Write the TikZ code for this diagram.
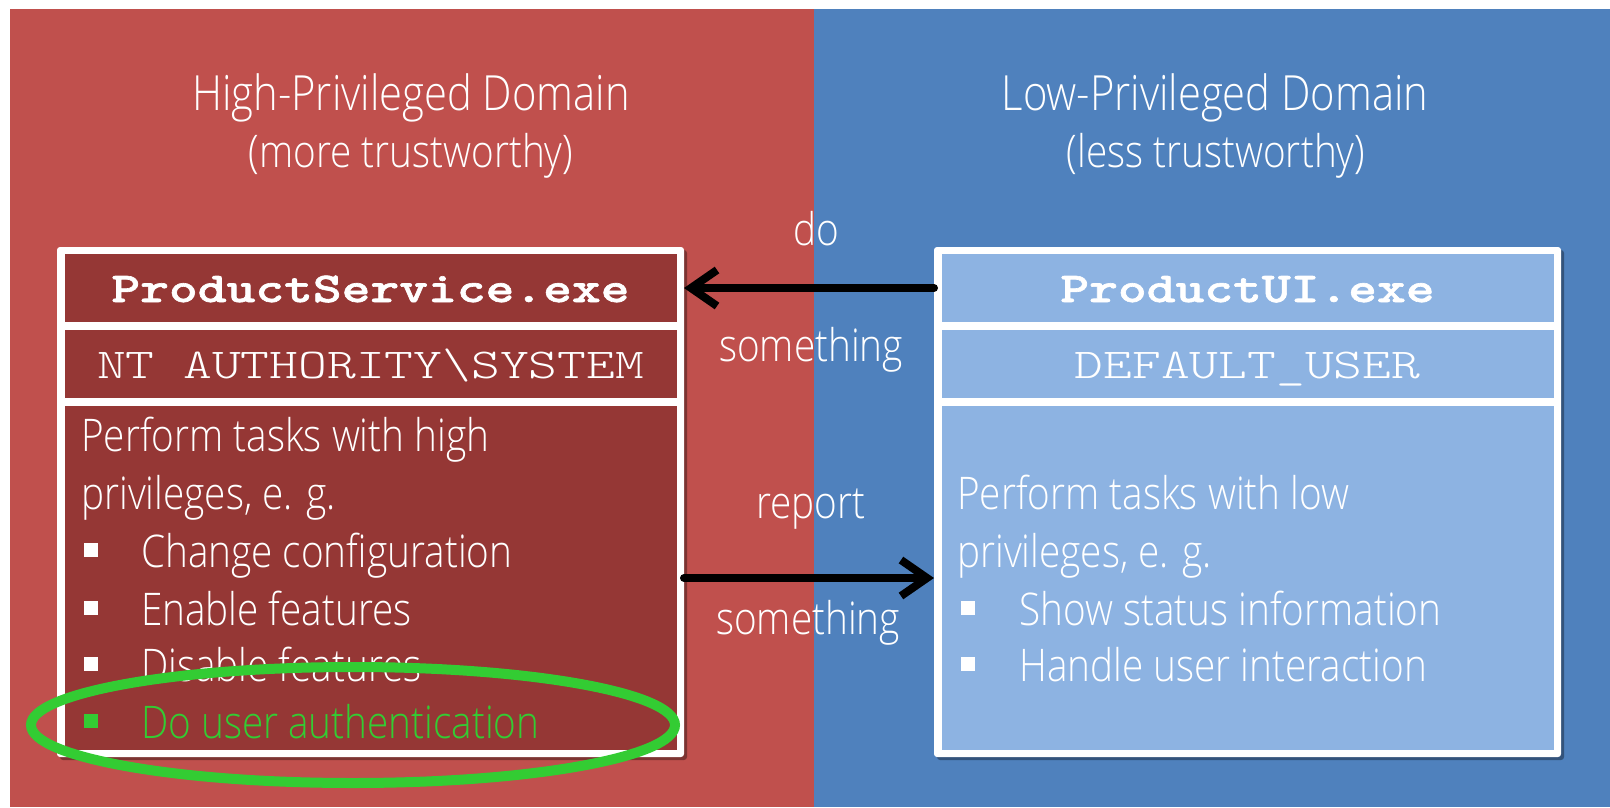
\documentclass[tikz,border=0pt]{standalone}
\usepackage{fontspec}
\setmainfont{Open Sans}[UprightFont=* Light, FakeStretch=0.86]
\newfontfamily\codefont{lmmonolt10-regular.otf}[BoldFont=lmmonolt10-bold.otf, BoldFeatures={FakeBold=1.5}, FakeStretch=1.29]
\usetikzlibrary{positioning,shadows,arrows.meta,shapes.geometric}
\definecolor{hiRed}{HTML}{C0504D}
\definecolor{loBlue}{HTML}{4F81BD}
\definecolor{hiCell}{HTML}{953735}
\definecolor{loCell}{HTML}{8DB3E2}
\definecolor{ringGreen}{HTML}{33CC33}

\begin{document}
\begin{tikzpicture}[x=1pt,y=-1pt,
	txt/.style={inner sep=0pt, text=white, font=\fontsize{45}{54}\selectfont},
	title/.style={txt, font=\fontsize{48.5}{54}\selectfont},
	cell/.style={inner sep=0pt, outer sep=0pt, minimum width=612pt, minimum height=68pt,
		text height=33pt, text depth=5pt, text=white, font=\codefont\fontsize{42.5}{50}\selectfont},
	frame/.style={fill=white, rounded corners=3pt, minimum width=627pt, minimum height=510pt,
		inner sep=0pt, outer sep=0pt,
		drop shadow={shadow xshift=3pt, shadow yshift=-3pt, opacity=0.35, fill=black}},
	bullet/.style={fill=white, inner sep=0pt, minimum size=14pt},
	flow/.style={line width=8pt, -{Straight Barb[length=26pt,width=36pt]}, line cap=round}]
	\useasboundingbox (0,0) rectangle (1610,807);
	\fill[hiRed] (10,9) rectangle (814,807);
	\fill[loBlue] (814,9) rectangle (1610,807);
	%%%%%%%%%% domains
	\node[title, anchor=base] (hiTitle) at (411,110) {High-Privileged Domain};
	\node[txt, anchor=base] (hiNote) at (411,167) {(more trustworthy)};
	\node[title, anchor=base] (loTitle) at (1215,110) {Low-Privileged Domain};
	\node[txt, anchor=base] (loNote) at (1216,167) {(less trustworthy)};
	%%%%%%%%%% ProductService.exe
	\node[frame] (psBox) at (370.5,502) {};
	\node[cell, fill=hiCell] (psHead) at (370.5,288) {\textbf{ProductService.exe}};
	\node[cell, fill=hiCell, below=8pt of psHead] (psUser) {NT AUTHORITY\textbackslash SYSTEM};
	\node[cell, fill=hiCell, below=8pt of psUser, minimum height=344pt] (psBody) {};
	\node[txt, anchor=base west] (psLine1) at (81,451) {Perform tasks with high};
	\node[txt, anchor=base west] (psLine2) at (81,509) {privileges, e. g.};
	\node[bullet] (psDot1) at (91,550) {};
	\node[txt, anchor=base west] (psItem1) at (141,567) {Change configuration};
	\node[bullet] (psDot2) at (91,608) {};
	\node[txt, anchor=base west] (psItem2) at (141,625) {Enable features};
	\node[bullet] (psDot3) at (91,664) {};
	\node[txt, anchor=base west] (psItem3) at (141,681) {Disable features};
	\node[bullet, fill=ringGreen] (psDot4) at (91,721) {};
	\node[txt, anchor=base west, text=ringGreen] (psItem4) at (141,738) {Do user authentication};
	%%%%%%%%%% ProductUI.exe
	\node[frame] (uiBox) at (1247.5,502) {};
	\node[cell, fill=loCell] (uiHead) at (1247.5,288) {\textbf{ProductUI.exe}};
	\node[cell, fill=loCell, below=8pt of uiHead] (uiUser) {DEFAULT\_USER};
	\node[cell, fill=loCell, below=8pt of uiUser, minimum height=344pt] (uiBody) {};
	\node[txt, anchor=base west] (uiLine1) at (957,509) {Perform tasks with low};
	\node[txt, anchor=base west] (uiLine2) at (957,567) {privileges, e. g.};
	\node[bullet] (uiDot1) at (968,608) {};
	\node[txt, anchor=base west] (uiItem1) at (1019,625) {Show status information};
	\node[bullet] (uiDot2) at (968,664) {};
	\node[txt, anchor=base west] (uiItem2) at (1019,681) {Handle user interaction};
	%%%%%%%%%% messages
	\node[txt, anchor=base] (doTxt) at (816,245) {do};
	\node[txt, anchor=base] (doObj) at (811,361) {something};
	\node[txt, anchor=base] (reportTxt) at (811,518) {report};
	\node[txt, anchor=base] (reportObj) at (808,634) {something};
	\coordinate (reportMid) at (811,578);
	\draw[flow] (uiBox.west |- uiHead) -- (psBox.east |- psHead);
	\draw[flow] (psBox.east |- reportMid) -- (uiBox.west |- reportMid);
	%%%%%%%%%% highlight
	\node[ellipse, draw=ringGreen, line width=10pt, minimum width=644pt, minimum height=116pt] (authRing) at (353,725) {};
\end{tikzpicture}
\end{document}
